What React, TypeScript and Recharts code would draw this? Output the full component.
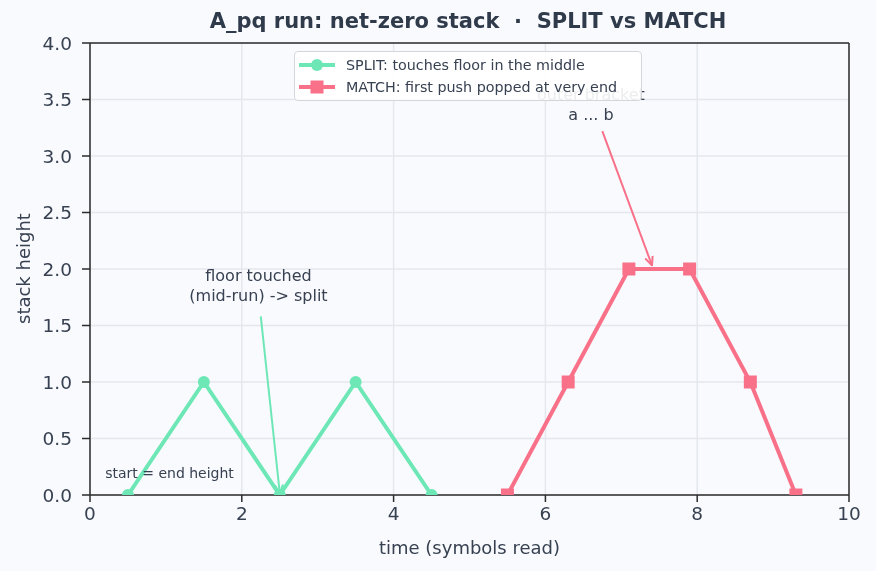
import React from "react";
import {
  LineChart,
  Line,
  XAxis,
  YAxis,
  CartesianGrid,
  ReferenceLine,
  ReferenceDot,
} from "recharts";

// stack height over time for the two runs
const splitTime = [0.5, 1.5, 2.5, 3.5, 4.5];
const splitHeight = [0, 1, 0, 1, 0];
const matchTime = [5.5, 6.3, 7.1, 7.9, 8.7, 9.3];
const matchHeight = [0, 1, 2, 2, 1, 0];

const xTicks = [0, 2, 4, 6, 8, 10];
const yTicks = [0, 0.5, 1, 1.5, 2, 2.5, 3, 3.5, 4];

const splitData = splitTime.map((t, i) => ({ t, h: splitHeight[i] }));
const matchData = matchTime.map((t, i) => ({ t, h: matchHeight[i] }));

const GREEN = "#6ee7b7";
const PINK = "#f87189";
const INK = "#374151";
const BG = "#f9fafd";
const FONT = "'DejaVu Sans', sans-serif";

const SquareDot = (p: any) => {
  if (p.cx == null || p.cy == null) return null;
  return <rect key={`sq-${p.index}`} x={p.cx - 6.5} y={p.cy - 6.5} width={13} height={13} fill={PINK} />;
};

const arrowShape = (color: string, id: string) => (p: any) => {
  const { x1, y1, x2, y2 } = p;
  return <line x1={x1} y1={y1} x2={x2} y2={y2} stroke={color} strokeWidth={2} markerEnd={`url(#${id})`} />;
};

const textShape = (lines: string[], size: number, anchor: "middle" | "start" = "middle") => (p: any) => (
  <text x={p.cx} y={p.cy} textAnchor={anchor} fontFamily={FONT} fontSize={size} fill={INK}>
    {lines.map((l, i) => (
      <tspan key={i} x={p.cx} dy={i === 0 ? 0 : size * 1.25}>
        {l}
      </tspan>
    ))}
  </text>
);

const LegendBox = () => (
  <div
    style={{
      position: "absolute",
      top: 51,
      left: 294,
      width: 337,
      background: "rgba(255,255,255,0.9)",
      border: "1px solid #d4d6dc",
      borderRadius: 4,
      padding: "2px 5px 2px 4px",
      fontFamily: FONT,
      fontSize: 14.3,
      color: INK,
      lineHeight: "22px",
      whiteSpace: "nowrap",
    }}
  >
    <div style={{ display: "flex", alignItems: "center" }}>
      <svg width={36} height={14} style={{ marginRight: 11 }}>
        <line x1={0} y1={7} x2={36} y2={7} stroke={GREEN} strokeWidth={4} />
        <circle cx={18} cy={7} r={6} fill={GREEN} />
      </svg>
      SPLIT: touches floor in the middle
    </div>
    <div style={{ display: "flex", alignItems: "center" }}>
      <svg width={36} height={14} style={{ marginRight: 11 }}>
        <line x1={0} y1={7} x2={36} y2={7} stroke={PINK} strokeWidth={4} />
        <rect x={11.5} y={0.5} width={13} height={13} fill={PINK} />
      </svg>
      MATCH: first push popped at very end
    </div>
  </div>
);

export default function App() {
  return (
    <div style={{ position: "fixed", left: 0, top: 0, width: 876, height: 571, background: BG }}>
      <div
        style={{
          position: "absolute",
          top: 9,
          left: 0,
          width: 936,
          textAlign: "center",
          fontFamily: FONT,
          fontWeight: "bold",
          fontSize: 21,
          color: "#2f3a4b",
        }}
      >
        A_pq run: net-zero stack &nbsp;·&nbsp; SPLIT vs MATCH
      </div>
      <LineChart width={876} height={571} margin={{ top: 43, right: 27, bottom: 17, left: 14 }}>
        <defs>
          <marker id="arrG" markerWidth={10} markerHeight={10} refX={8} refY={5} orient="auto" markerUnits="userSpaceOnUse">
            <path d="M0,1 L9,5 L0,9" fill="none" stroke={GREEN} strokeWidth={2} />
          </marker>
          <marker id="arrP" markerWidth={10} markerHeight={10} refX={8} refY={5} orient="auto" markerUnits="userSpaceOnUse">
            <path d="M0,1 L9,5 L0,9" fill="none" stroke={PINK} strokeWidth={2} />
          </marker>
        </defs>
        <CartesianGrid stroke="#e4e7ee" strokeWidth={1.5} />
        <XAxis
          dataKey="t"
          type="number"
          domain={[0, 10]}
          ticks={xTicks}
          height={59}
          stroke="#2b2b2b"
          strokeWidth={1.5}
          tickSize={7}
          tickMargin={5}
          tick={{ fill: INK, fontSize: 18.5, fontFamily: FONT }}
          label={{ value: "time (symbols read)", position: "insideBottom", offset: 0, fill: INK, fontSize: 18, fontFamily: FONT }}
          allowDataOverflow
        />
        <YAxis
          dataKey="h"
          type="number"
          domain={[0, 4]}
          ticks={yTicks}
          width={76}
          stroke="#2b2b2b"
          strokeWidth={1.5}
          tickSize={8}
          tickMargin={10}
          tickFormatter={(v: number) => v.toFixed(1)}
          tick={{ fill: INK, fontSize: 18.5, fontFamily: FONT }}
          label={{ value: "stack height", angle: -90, position: "insideLeft", offset: 10, dy: 55, fill: INK, fontSize: 18, fontFamily: FONT }}
          allowDataOverflow
        />
        <ReferenceLine y={4} stroke="#2b2b2b" strokeWidth={1.5} />
        <ReferenceLine x={10} stroke="#2b2b2b" strokeWidth={1.5} />
        <Line
          data={splitData}
          dataKey="h"
          name="SPLIT: touches floor in the middle"
          stroke={GREEN}
          strokeWidth={4}
          dot={{ r: 6, fill: GREEN, stroke: GREEN, strokeWidth: 0 }}
          isAnimationActive={false}
        />
        <Line
          data={matchData}
          dataKey="h"
          name="MATCH: first push popped at very end"
          stroke={PINK}
          strokeWidth={4}
          dot={<SquareDot />}
          isAnimationActive={false}
        />
        <ReferenceLine
          segment={[{ x: 2.25, y: 1.58 }, { x: 2.5, y: 0.02 }]}
          shape={arrowShape(GREEN, "arrG")}
        />
        <ReferenceLine
          segment={[{ x: 6.75, y: 3.22 }, { x: 7.4, y: 2.04 }]}
          shape={arrowShape(PINK, "arrP")}
        />
        <ReferenceDot x={2.22} y={1.89} r={0} shape={textShape(["floor touched", "(mid-run) -> split"], 16)} />
        <ReferenceDot x={6.6} y={3.5} r={0} shape={textShape(["outer bracket", "a ... b"], 16)} />
        <ReferenceDot x={0.2} y={0.15} r={0} shape={textShape(["start = end height"], 14, "start")} />
      </LineChart>
      <LegendBox />
    </div>
  );
}
